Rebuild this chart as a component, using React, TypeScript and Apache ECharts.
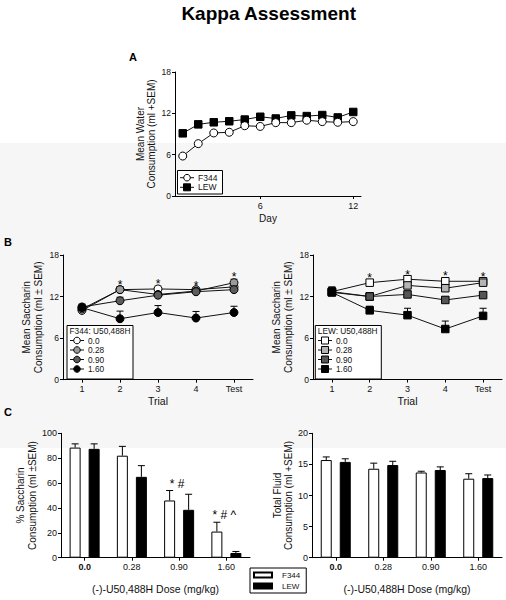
import React, { useEffect, useRef } from "react";
import * as echarts from "echarts";

const FONT = '"Liberation Sans", Arial, Helvetica, sans-serif';

// ---- Panel A: mean water consumption by day
const days = [1, 2, 3, 4, 5, 6, 7, 8, 9, 10, 11, 12];
const dayTicks = [6, 12];
const strains = ["F344", "LEW"];
const waterF344 = [5.8, 7.6, 9.15, 9.25, 10.2, 10.1, 10.65, 10.65, 11.0, 10.8, 10.7, 10.8];
const waterLEW = [9.1, 10.4, 10.7, 10.85, 11.1, 11.5, 11.25, 11.7, 11.6, 11.75, 11.4, 12.2];

// ---- Panel B: saccharin consumption by trial
const trials = ["1", "2", "3", "4", "Test"];
const doses = ["0.0", "0.28", "0.90", "1.60"];
const f344D000 = [10.0, 13.0, 13.1, 13.0, 13.4];
const f344D028 = [10.2, 13.0, 12.3, 12.8, 14.0];
const f344D090 = [10.5, 11.4, 12.2, 12.7, 13.0];
const f344D160 = [10.4, 8.8, 9.7, 8.9, 9.7];
const f344D000Sem = [0.4, 0.4, 0.4, 0.3, 0.4];
const f344D028Sem = [0.3, 0.4, 0.4, 0.3, 0.5];
const f344D090Sem = [0.4, 0.5, 0.4, 0.3, 0.4];
const f344D160Sem = [0.4, 1.1, 1.0, 0.95, 0.9];
const lewD000 = [12.7, 14.0, 14.5, 14.2, 14.2];
const lewD028 = [12.6, 12.0, 13.6, 13.2, 14.0];
const lewD090 = [12.7, 12.0, 12.3, 11.5, 12.2];
const lewD160 = [12.6, 10.0, 9.3, 7.3, 9.2];
const lewD000Sem = [0.7, 0.4, 0.3, 0.5, 0.4];
const lewD028Sem = [0.6, 0.5, 0.4, 0.5, 0.4];
const lewD090Sem = [0.6, 0.4, 0.4, 0.4, 0.4];
const lewD160Sem = [0.5, 0.6, 1.0, 1.15, 1.1];
const starTrialIdx = [1, 2, 3, 4];

// ---- Panel C: % saccharin and total fluid by dose
const doseCats = ["0.0", "0.28", "0.90", "1.60"];
const saccPctF344 = [88.5, 82, 46, 21];
const saccPctF344Sem = [3, 7.5, 8, 7.5];
const saccPctLEW = [87.5, 65, 38.5, 3.8];
const saccPctLEWSem = [4, 9, 12.5, 1.2];
const fluidF344 = [15.7, 14.3, 13.7, 12.7];
const fluidF344Sem = [0.5, 0.9, 0.2, 0.8];
const fluidLEW = [15.4, 14.9, 14.1, 12.8];
const fluidLEWSem = [0.5, 0.6, 0.5, 0.5];
const saccAnnotIdx = [2, 3];
const saccAnnotText = ["* #", "* # ^"];

const strip = (n: string) => n.split("|")[1];

function legendRow(x: number, y: number, symbol: string, fill: string, label: string, fs: number) {
  const mark =
    symbol === "circle"
      ? { type: "circle", shape: { cx: x + 7, cy: y, r: 3.3 }, style: { fill, stroke: "#000", lineWidth: 1 } }
      : { type: "rect", shape: { x: x + 3.5, y: y - 3.5, width: 7, height: 7 }, style: { fill, stroke: "#000", lineWidth: 1 } };
  return [
    { type: "line", shape: { x1: x, y1: y, x2: x + 14, y2: y }, style: { stroke: "#111", lineWidth: 1 } },
    mark,
    { type: "text", x: x + 18, y, style: { text: label, font: fs + "px " + FONT, fill: "#111", align: "left", verticalAlign: "middle" } },
  ];
}

function buildOption(): any {
  const axisLine = { show: true, lineStyle: { color: "#000", width: 1 } };
  const axisTick = { show: true, length: 3, lineStyle: { color: "#000" } };
  const yLabel = (fs: number) => ({ fontSize: fs, color: "#111", fontFamily: FONT, margin: 4 });
  const nameStyle = (lh: number) => ({ fontSize: 10, color: "#111", fontFamily: FONT, lineHeight: lh });

  const yAxisBase = (grid: number, max: number, interval: number, name: string, gap: number, lh: number, fs: number) => ({
    type: "value",
    gridIndex: grid,
    min: 0,
    max,
    interval,
    axisLine,
    axisTick,
    splitLine: { show: false },
    axisLabel: yLabel(fs),
    name,
    nameLocation: "middle",
    nameRotate: 90,
    nameGap: gap,
    nameTextStyle: nameStyle(lh),
  });

  const catAxis = (grid: number, data: string[], name: string, gap: number, boldFirst: boolean) => ({
    type: "category",
    gridIndex: grid,
    data,
    boundaryGap: true,
    axisLine,
    axisTick: { ...axisTick, alignWithLabel: true },
    axisLabel: {
      fontSize: 9,
      color: "#111",
      fontFamily: FONT,
      margin: 5,
      formatter: boldFirst ? (v: string) => (v === "0.0" ? "{b|" + v + "}" : v) : undefined,
      rich: { b: { fontWeight: "bold", fontSize: 9, fontFamily: FONT, color: "#111" } },
    },
    name,
    nameLocation: "middle",
    nameGap: gap,
    nameTextStyle: { fontSize: 10.5, color: "#111", fontFamily: FONT },
  });

  const errRender = (offset: number) => (params: any, api: any) => {
    const x = api.value(0);
    const v = api.value(1);
    const e = api.value(2);
    const p0 = api.coord([x, v]);
    const p1 = api.coord([x, v + e]);
    const cx = p0[0] + offset;
    return {
      type: "group",
      children: [
        { type: "line", shape: { x1: cx, y1: p0[1], x2: cx, y2: p1[1] }, style: { stroke: "#000", lineWidth: 1 } },
        { type: "line", shape: { x1: cx - 3.5, y1: p1[1], x2: cx + 3.5, y2: p1[1] }, style: { stroke: "#000", lineWidth: 1 } },
      ],
    };
  };

  const errSeries = (xi: number, yi: number, vals: number[], sems: number[], offset: number, z: number) => ({
    type: "custom",
    xAxisIndex: xi,
    yAxisIndex: yi,
    z,
    silent: true,
    itemStyle: { color: "#000" },
    renderItem: errRender(offset),
    data: vals.map((v, i) => [i, v, sems[i]]),
  });

  const lineSeries = (name: string, xi: number, yi: number, data: any[], symbol: string, fill: string, z: number) => ({
    type: "line",
    name,
    xAxisIndex: xi,
    yAxisIndex: yi,
    data,
    symbol,
    symbolSize: symbol === "rect" ? 7.5 : 8,
    z,
    lineStyle: { color: "#111", width: 1 },
    itemStyle: { color: fill, borderColor: "#000", borderWidth: 1 },
    emphasis: { disabled: true },
    silent: true,
  });

  const starSeries = (xi: number, yi: number, groups: number[][], sems: number[][]) => ({
    type: "custom",
    xAxisIndex: xi,
    yAxisIndex: yi,
    z: 5,
    silent: true,
    itemStyle: { color: "#000" },
    data: starTrialIdx.map((t) => [t, Math.max(...groups.map((g, k) => g[t] + sems[k][t]))]),
    renderItem: (params: any, api: any) => {
      const p = api.coord([api.value(0), api.value(1)]);
      return {
        type: "text",
        x: p[0],
        y: p[1] - 2,
        style: { text: "*", fill: "#000", font: "12px " + FONT, align: "center", verticalAlign: "middle" },
      };
    },
  });

  const f344Vals = [f344D000, f344D028, f344D090, f344D160];
  const f344Sems = [f344D000Sem, f344D028Sem, f344D090Sem, f344D160Sem];
  const lewVals = [lewD000, lewD028, lewD090, lewD160];
  const lewSems = [lewD000Sem, lewD028Sem, lewD090Sem, lewD160Sem];
  const f344Fills = ["#ffffff", "#9a9a9a", "#5c5c5c", "#000000"];
  const lewFills = ["#ffffff", "#b4b4b4", "#555555", "#000000"];
  const strainFills = ["#ffffff", "#000000"];
  const strainSymbols = ["circle", "rect"];

  const series: any[] = [];

  // Panel A
  series.push(lineSeries("A|F344", 0, 0, days.map((d, i) => [d, waterF344[i]]), "circle", "#ffffff", 3));
  series.push(lineSeries("A|LEW", 0, 0, days.map((d, i) => [d, waterLEW[i]]), "rect", "#000000", 2));

  // Panel B
  doses.forEach((d, k) => {
    series.push(errSeries(1, 1, f344Vals[k], f344Sems[k], 0, 1));
    series.push(lineSeries("BL|" + d, 1, 1, f344Vals[k], "circle", f344Fills[k], 2 + k * 0.1));
    series.push(errSeries(2, 2, lewVals[k], lewSems[k], 0, 1));
    series.push(lineSeries("BR|" + d, 2, 2, lewVals[k], "rect", lewFills[k], 2 + k * 0.1));
  });
  series.push(starSeries(1, 1, f344Vals, f344Sems));
  series.push(starSeries(2, 2, lewVals, lewSems));

  // Panel C
  const barSeries = (name: string, xi: number, yi: number, data: number[], fill: string) => ({
    type: "bar",
    name,
    xAxisIndex: xi,
    yAxisIndex: yi,
    data,
    barWidth: 11,
    barGap: "73%",
    z: 2,
    silent: true,
    itemStyle: { color: fill, borderColor: "#000", borderWidth: 1 },
  });
  series.push(barSeries("CL|F344", 3, 3, saccPctF344, "#ffffff"));
  series.push(barSeries("CL|LEW", 3, 3, saccPctLEW, "#000000"));
  series.push(errSeries(3, 3, saccPctF344, saccPctF344Sem, -9.5, 3));
  series.push(errSeries(3, 3, saccPctLEW, saccPctLEWSem, 9.5, 3));
  series.push(barSeries("CR|F344", 4, 4, fluidF344, "#ffffff"));
  series.push(barSeries("CR|LEW", 4, 4, fluidLEW, "#000000"));
  series.push(errSeries(4, 4, fluidF344, fluidF344Sem, -9.5, 3));
  series.push(errSeries(4, 4, fluidLEW, fluidLEWSem, 9.5, 3));
  series.push({
    type: "custom",
    xAxisIndex: 3,
    yAxisIndex: 3,
    z: 5,
    silent: true,
    itemStyle: { color: "#000" },
    data: saccAnnotIdx.map((i) => [i, Math.max(saccPctF344[i] + saccPctF344Sem[i], saccPctLEW[i] + saccPctLEWSem[i])]),
    renderItem: (params: any, api: any) => {
      const p = api.coord([api.value(0), api.value(1)]);
      return {
        type: "text",
        x: p[0] - 2,
        y: p[1] - 1,
        style: {
          text: saccAnnotText[params.dataIndex],
          fill: "#000",
          font: "12px " + FONT,
          align: "center",
          verticalAlign: "bottom",
        },
      };
    },
  });

  // Graphic legends for panels A and B
  const legendGraphics: any[] = [
    { type: "rect", shape: { x: 177.5, y: 170.5, width: 45, height: 23.5 }, style: { fill: "#ffffff", stroke: "#000", lineWidth: 1 } },
    ...strains.flatMap((s, i) => legendRow(180, 177.7 + i * 9.6, strainSymbols[i], strainFills[i], s, 8.5)),
    { type: "rect", shape: { x: 67, y: 325.5, width: 66, height: 53.5 }, style: { fill: "#ffffff", stroke: "#000", lineWidth: 1 } },
    { type: "text", x: 69.5, y: 331, style: { text: "F344: U50,488H", font: "8.3px " + FONT, fill: "#111", align: "left", verticalAlign: "middle" } },
    ...doses.flatMap((d, k) => legendRow(70, 340.5 + k * 9.5, "circle", f344Fills[k], d, 8.3)),
    { type: "rect", shape: { x: 315.3, y: 325.5, width: 66, height: 53.5 }, style: { fill: "#ffffff", stroke: "#000", lineWidth: 1 } },
    { type: "text", x: 317.8, y: 331, style: { text: "LEW: U50,488H", font: "8.3px " + FONT, fill: "#111", align: "left", verticalAlign: "middle" } },
    ...doses.flatMap((d, k) => legendRow(318, 340.5 + k * 9.5, "rect", lewFills[k], d, 8.3)),
  ];

  return {
    animation: false,
    backgroundColor: "#ffffff",
    textStyle: { fontFamily: FONT },
    grid: [
      { left: 175, top: 72, width: 186, height: 124 },
      { left: 63, top: 255, width: 190, height: 124.7 },
      { left: 313, top: 255, width: 189, height: 124.5 },
      { left: 61, top: 433.3, width: 189, height: 124.4 },
      { left: 312, top: 433.3, width: 190, height: 124.4 },
    ],
    xAxis: [
      {
        type: "value",
        gridIndex: 0,
        min: 0.5,
        max: 12.5,
        axisLine,
        axisTick: { ...axisTick, customValues: dayTicks },
        axisLabel: { fontSize: 9, color: "#111", fontFamily: FONT, margin: 5, customValues: dayTicks },
        splitLine: { show: false },
        name: "Day",
        nameLocation: "middle",
        nameGap: 17,
        nameTextStyle: { fontSize: 10, color: "#111", fontFamily: FONT },
      },
      catAxis(1, trials, "Trial", 16, false),
      catAxis(2, trials, "Trial", 16, false),
      catAxis(3, doseCats, "(-)-U50,488H Dose (mg/kg)", 26, true),
      catAxis(4, doseCats, "(-)-U50,488H Dose (mg/kg)", 26, true),
    ],
    yAxis: [
      yAxisBase(0, 18, 6, "Mean Water\nConsumption (ml +SEM)", 18, 11, 8.5),
      yAxisBase(1, 18, 6, "Mean Saccharin\nConsumption (ml \u00b1 SEM)", 19, 11.6, 8.5),
      yAxisBase(2, 18, 6, "Mean Saccharin\nConsumption (ml \u00b1 SEM)", 19, 11.6, 8.5),
      yAxisBase(3, 100, 20, "% Saccharin\nConsumption (ml \u00b1SEM)", 20, 12, 9),
      yAxisBase(4, 20, 5, "Total Fluid\nConsumption (ml +SEM)", 9, 11, 9),
    ],
    legend: [
      {
        data: ["CL|F344", "CL|LEW"],
        orient: "vertical",
        selectedMode: false,
        formatter: strip,
        left: 250,
        top: 568,
        padding: [2, 6, 2, 3],
        borderColor: "#000",
        borderWidth: 1,
        icon: "rect",
        itemWidth: 18,
        itemHeight: 5,
        itemGap: 1,
        textStyle: { fontSize: 8, color: "#111", fontFamily: FONT, lineHeight: 10, padding: [0, 0, 0, 5] },
      },
    ],
    graphic: [
      { type: "rect", silent: true, z: -10, shape: { x: 0, y: 143, width: 506, height: 305 }, style: { fill: "#f6f6f6" } },
      {
        type: "text",
        x: 268.7,
        y: 13.5,
        style: { text: "Kappa Assessment", font: "bold 19px " + FONT, fill: "#000", align: "center", verticalAlign: "middle" },
      },
      { type: "text", x: 133, y: 57, style: { text: "A", font: "bold 11px " + FONT, fill: "#000", align: "center", verticalAlign: "middle" } },
      { type: "text", x: 8, y: 242, style: { text: "B", font: "bold 11px " + FONT, fill: "#000", align: "center", verticalAlign: "middle" } },
      { type: "text", x: 8, y: 412, style: { text: "C", font: "bold 11px " + FONT, fill: "#000", align: "center", verticalAlign: "middle" } },
      { type: "group", z: 10, children: legendGraphics },
    ],
    series,
  };
}

export default function App() {
  const ref = useRef<HTMLDivElement>(null);
  useEffect(() => {
    if (!ref.current) return;
    const chart = echarts.init(ref.current, undefined, { renderer: "svg" });
    chart.setOption(buildOption());
    return () => chart.dispose();
  }, []);
  return <div ref={ref} style={{ position: "absolute", left: 0, top: 0, width: 506, height: 600 }} />;
}
